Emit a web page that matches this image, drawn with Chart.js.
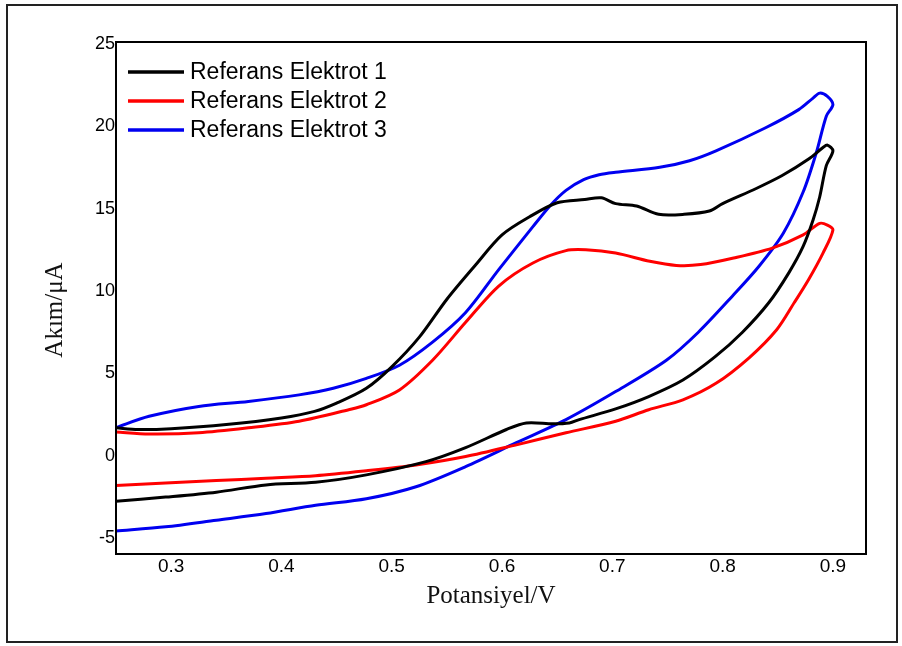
<!DOCTYPE html>
<html>
<head>
<meta charset="utf-8">
<title>Referans Elektrot CV</title>
<script src="https://cdn.jsdelivr.net/npm/chart.js@4.4.1/dist/chart.umd.min.js"></script>
<style>
    html, body { margin: 0; padding: 0; background: #ffffff; }
    #wrap { position: relative; width: 902px; height: 646px; }
</style>
</head>
<body>
<div id="wrap"><canvas id="cv"></canvas></div>
<script>
// Cyclic voltammograms, potential (V) / current (µA), forward scan then return scan
const E1_V = [0.25, 0.27, 0.30, 0.35, 0.40, 0.43, 0.45, 0.477, 0.50, 0.525, 0.55, 0.575, 0.60, 0.625, 0.65, 0.675, 0.69, 0.703, 0.722, 0.742, 0.765, 0.788, 0.80, 0.83, 0.854, 0.878, 0.891, 0.895, 0.90,
              0.894, 0.888, 0.882, 0.873, 0.86, 0.842, 0.818, 0.793, 0.764, 0.733, 0.703, 0.67, 0.661, 0.646, 0.622, 0.604, 0.567, 0.531, 0.477, 0.431, 0.386, 0.341, 0.295, 0.25];
const E1_I = [1.7, 1.6, 1.65, 1.9, 2.3, 2.7, 3.2, 4.1, 5.4, 7.2, 9.5, 11.5, 13.4, 14.5, 15.35, 15.55, 15.65, 15.3, 15.15, 14.65, 14.65, 14.85, 15.3, 16.2, 17.0, 18.0, 18.7, 18.85, 18.5,
              17.6, 15.7, 14.3, 12.7, 11.1, 9.3, 7.5, 6.0, 4.6, 3.6, 2.85, 2.2, 2.0, 1.95, 2.0, 1.6, 0.5, -0.35, -1.15, -1.6, -1.76, -2.2, -2.5, -2.75];

const E2_V = [0.25, 0.28, 0.325, 0.37, 0.416, 0.461, 0.477, 0.507, 0.537, 0.567, 0.597, 0.628, 0.658, 0.676, 0.703, 0.734, 0.758, 0.78, 0.81, 0.845, 0.873, 0.888, 0.895, 0.90,
              0.891, 0.878, 0.865, 0.849, 0.824, 0.794, 0.764, 0.733, 0.703, 0.658, 0.613, 0.567, 0.522, 0.477, 0.431, 0.386, 0.341, 0.295, 0.25];
const E2_I = [1.45, 1.33, 1.4, 1.7, 2.1, 2.8, 3.1, 4.0, 5.8, 8.1, 10.3, 11.7, 12.45, 12.5, 12.3, 11.8, 11.55, 11.6, 12.0, 12.6, 13.4, 14.1, 14.0, 13.7,
              12.3, 10.7, 9.3, 7.65, 5.95, 4.4, 3.4, 2.8, 2.1, 1.4, 0.67, -0.04, -0.55, -0.9, -1.2, -1.35, -1.5, -1.65, -1.8];

const E3_V = [0.25, 0.28, 0.325, 0.37, 0.416, 0.447, 0.477, 0.507, 0.537, 0.567, 0.597, 0.628, 0.644, 0.658, 0.674, 0.688, 0.703, 0.743, 0.77, 0.794, 0.839, 0.869, 0.882, 0.888, 0.895, 0.90,
              0.894, 0.885, 0.873, 0.855, 0.833, 0.809, 0.778, 0.749, 0.703, 0.658, 0.613, 0.567, 0.522, 0.477, 0.431, 0.386, 0.341, 0.295, 0.25];
const E3_I = [1.72, 2.4, 3.0, 3.3, 3.7, 4.1, 4.7, 5.5, 6.9, 8.7, 11.3, 13.9, 15.2, 16.1, 16.75, 17.05, 17.2, 17.5, 17.9, 18.5, 19.9, 21.0, 21.7, 22.0, 21.8, 21.3,
              20.6, 18.4, 16.0, 13.5, 11.5, 9.7, 7.5, 5.8, 3.9, 2.2, 0.8, -0.65, -1.87, -2.6, -3.0, -3.5, -3.9, -4.3, -4.55];

const SERIES_LABELS = ['Referans Elektrot 1', 'Referans Elektrot 2', 'Referans Elektrot 3'];
const SERIES_COLORS = ['#000000', '#ff0000', '#0000f0'];
const X_TICKS = [0.3, 0.4, 0.5, 0.6, 0.7, 0.8, 0.9];
const Y_TICKS = [-5, 0, 5, 10, 15, 20, 25];
const X_TITLE = 'Potansiyel/V';
const Y_TITLE = 'Akım/μA';

const toPoints = (vs, is) => vs.map((v, k) => ({ x: v, y: is[k] }));

const datasets = [[E1_V, E1_I], [E2_V, E2_I], [E3_V, E3_I]].map(([vs, is], i) => ({
    label: SERIES_LABELS[i],
    data: toPoints(vs, is),
    borderColor: SERIES_COLORS[i],
    borderWidth: 3,
    pointRadius: 0,
    tension: 0.3,
    fill: false
}));

// page frame, plot box, inline legend and axis titles
const decor = {
    id: 'decor',
    beforeDraw(chart) {
        const ctx = chart.ctx;
        ctx.save();
        ctx.fillStyle = '#ffffff';
        ctx.fillRect(0, 0, chart.width, chart.height);
        ctx.strokeStyle = '#222222';
        ctx.lineWidth = 2;
        ctx.strokeRect(7, 5, 890, 637);
        ctx.restore();
    },
    afterDraw(chart) {
        const { ctx, chartArea: a } = chart;
        ctx.save();
        ctx.strokeStyle = '#000000';
        ctx.lineWidth = 2;
        ctx.strokeRect(a.left, a.top, a.right - a.left, a.bottom - a.top);

        ctx.font = '23px "Liberation Sans", Arial, sans-serif';
        ctx.textBaseline = 'middle';
        ctx.textAlign = 'left';
        chart.data.datasets.forEach((ds, i) => {
            const y = a.top + 30 + i * 29;
            ctx.strokeStyle = ds.borderColor;
            ctx.lineWidth = 3.5;
            ctx.beginPath();
            ctx.moveTo(a.left + 12, y);
            ctx.lineTo(a.left + 68, y);
            ctx.stroke();
            ctx.fillStyle = '#000000';
            ctx.fillText(ds.label, a.left + 74, y + 1);
        });

        ctx.font = '25px "Liberation Serif", "Times New Roman", serif';
        ctx.fillStyle = '#111111';
        ctx.textAlign = 'center';
        ctx.fillText(X_TITLE, (a.left + a.right) / 2, 596);
        ctx.translate(55, 310);
        ctx.rotate(-Math.PI / 2);
        ctx.fillText(Y_TITLE, 0, 0);
        ctx.restore();
    }
};

new Chart(document.getElementById('cv'), {
    type: 'line',
    data: { datasets },
    plugins: [decor],
    options: {
        responsive: true,
        maintainAspectRatio: false,
        animation: false,
        layout: { padding: { left: 76, top: 42, right: 36, bottom: 52 } },
        plugins: { legend: { display: false }, tooltip: { enabled: false } },
        scales: {
            x: {
                type: 'linear',
                min: 0.25,
                max: 0.93,
                afterFit: s => { s.height = 40; },
                afterBuildTicks: s => { s.ticks = X_TICKS.map(v => ({ value: v })); },
                grid: { display: false, drawTicks: false },
                border: { display: false },
                ticks: {
                    padding: 1,
                    color: '#000000',
                    font: { family: '"Liberation Sans", Arial, sans-serif', size: 19 },
                    callback: v => v.toFixed(1)
                }
            },
            y: {
                type: 'linear',
                min: -5.95,
                max: 25.1,
                afterFit: s => { s.width = 40; },
                afterBuildTicks: s => { s.ticks = Y_TICKS.map(v => ({ value: v })); },
                grid: { display: false, drawTicks: false },
                border: { display: false },
                ticks: {
                    padding: 1,
                    color: '#000000',
                    font: { family: '"Liberation Sans", Arial, sans-serif', size: 18 },
                    callback: v => String(v)
                }
            }
        }
    }
});
</script>
</body>
</html>
